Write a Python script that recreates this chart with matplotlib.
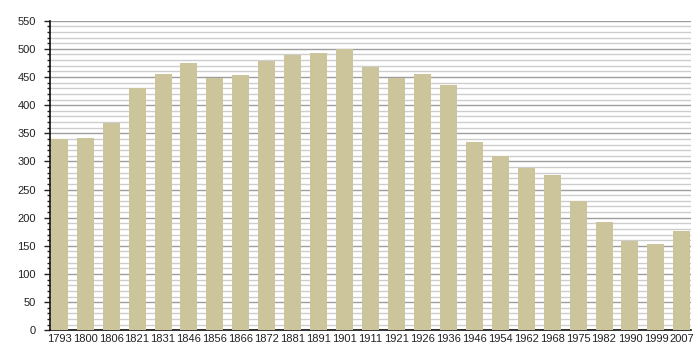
import matplotlib
matplotlib.use("Agg")
import matplotlib.pyplot as plt
from matplotlib.ticker import MultipleLocator

years = ["1793", "1800", "1806", "1821", "1831", "1846", "1856", "1866", "1872",
         "1881", "1891", "1901", "1911", "1921", "1926", "1936", "1946", "1954",
         "1962", "1968", "1975", "1982", "1990", "1999", "2007"]
population = [339, 341, 369, 431, 456, 474, 449, 454, 478, 489, 492, 500, 468,
              448, 456, 435, 335, 310, 288, 276, 229, 192, 159, 153, 176]

plt.rcParams['font.family'] = ['Liberation Sans', 'DejaVu Sans']

fig = plt.figure(figsize=(7, 3.6), dpi=100)
ax = fig.add_axes([50.3 / 700, 1 - 330.3 / 360, 640.5 / 700, 309.6 / 360])

x = list(range(len(years)))
ax.bar(x, population, width=0.656, color="#ccc49b", zorder=3)

ax.set_ylim(0, 550)
ax.set_xlim(-0.345, len(years) - 1 + 0.345)
ax.yaxis.set_major_locator(MultipleLocator(50))
ax.yaxis.set_minor_locator(MultipleLocator(10))
ax.grid(axis="y", which="major", color="#9e9e9e", linewidth=1.0, zorder=1)
ax.grid(axis="y", which="minor", color="#cdcdcd", linewidth=1.0, zorder=1)
ax.set_axisbelow(True)

ax.set_xticks(x)
ax.set_xticklabels(years)
ax.tick_params(axis="x", length=0, pad=3, labelsize=8, colors="#222222")
ax.tick_params(axis="y", which="major", length=4.5, width=1, pad=6, labelsize=8, colors="#222222")
ax.tick_params(axis="y", which="minor", length=2.5, width=1, color="#222222")

for s in ["top", "right"]:
    ax.spines[s].set_visible(False)
ax.spines["left"].set_color("#111111")
ax.spines["bottom"].set_color("#111111")
ax.spines["left"].set_linewidth(1.2)
ax.spines["bottom"].set_linewidth(1.2)

fig.savefig("out.png", dpi=100)
